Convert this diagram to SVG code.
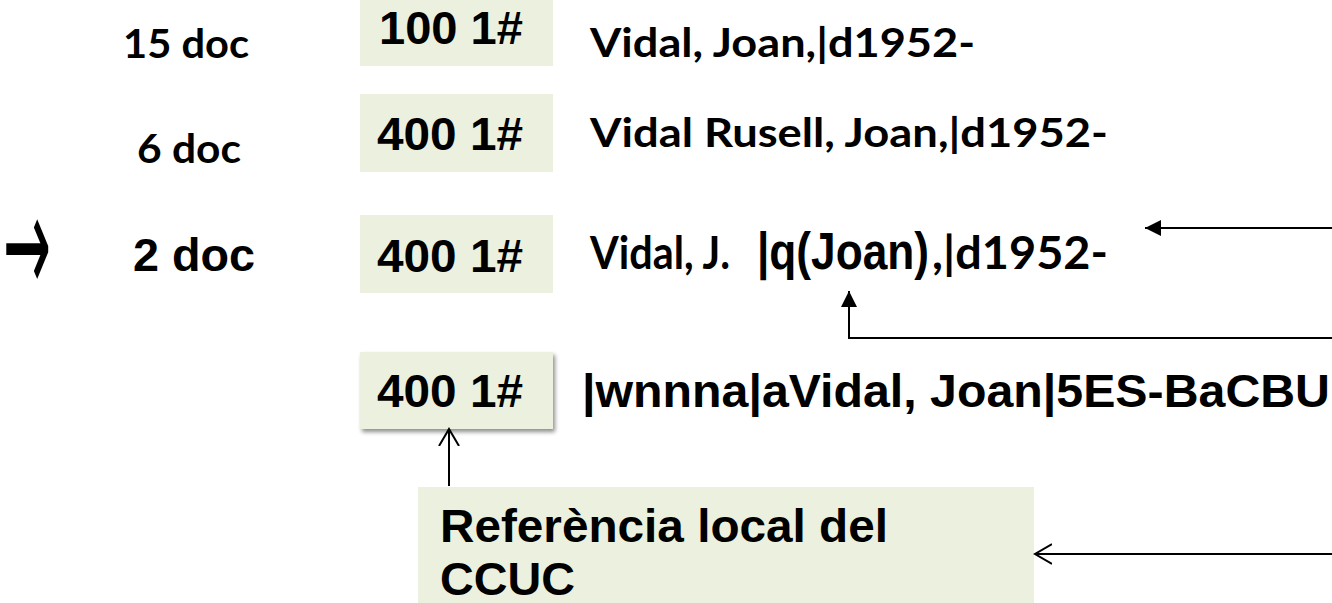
<svg xmlns="http://www.w3.org/2000/svg" width="1332" height="603" viewBox="0 0 1332 603">
<style>
.box{fill:#EBF1DE;}
.ar{font-family:"Liberation Sans",Arial,sans-serif;font-weight:bold;fill:#000;}
.cal{font-family:Lato,"Liberation Sans",sans-serif;font-weight:bold;fill:#000;}
.ln{fill:none;stroke:#000;stroke-width:2;}
</style>
<defs>
<marker id="fill" markerUnits="userSpaceOnUse" markerWidth="18" markerHeight="18" refX="16" refY="8" orient="auto">
<path d="M0,0 L16,8 L0,16 Z" fill="#000"/>
</marker>
<marker id="open" markerUnits="userSpaceOnUse" markerWidth="22" markerHeight="24" refX="17" refY="11" orient="auto">
<path d="M0,1 L17,11 L0,21" fill="none" stroke="#000" stroke-width="2"/>
</marker>
<filter id="sh" x="-10%" y="-10%" width="130%" height="140%">
<feGaussianBlur in="SourceAlpha" stdDeviation="2"/>
<feOffset dx="2" dy="3" result="b"/>
<feComponentTransfer><feFuncA type="linear" slope="0.45"/></feComponentTransfer>
<feMerge><feMergeNode/><feMergeNode in="SourceGraphic"/></feMerge>
</filter>
</defs>

<g id="counts">
<text class="cal" x="123" y="58" font-size="40" textLength="126" lengthAdjust="spacingAndGlyphs">15 doc</text>
<text class="cal" x="137" y="163" font-size="40" textLength="104" lengthAdjust="spacingAndGlyphs">6 doc</text>
<text x="3" y="293" font-size="140" font-family="DejaVu Sans" fill="#000" textLength="48" lengthAdjust="spacingAndGlyphs">→</text>
<text class="ar" x="133" y="271" font-size="46" textLength="122" lengthAdjust="spacingAndGlyphs">2 doc</text>
</g>

<g id="row1">
<rect class="box" x="360" y="-12" width="193" height="78"/>
<text class="ar" x="379" y="44" font-size="47" textLength="144" lengthAdjust="spacingAndGlyphs">100 1#</text>
<text class="cal" x="590" y="57" font-size="40" textLength="385" lengthAdjust="spacingAndGlyphs">Vidal, Joan,|d1952-</text>
</g>

<g id="row2">
<rect class="box" x="360" y="94" width="193" height="78"/>
<text class="ar" x="377" y="150" font-size="47" textLength="146" lengthAdjust="spacingAndGlyphs">400 1#</text>
<text class="cal" x="590" y="147" font-size="40" textLength="518" lengthAdjust="spacingAndGlyphs">Vidal Rusell, Joan,|d1952-</text>
</g>

<g id="row3">
<rect class="box" x="360" y="215" width="193" height="78"/>
<text class="ar" x="377" y="272" font-size="47" textLength="146" lengthAdjust="spacingAndGlyphs">400 1#</text>
<text y="269"><tspan class="cal" x="590" font-size="45" textLength="140" lengthAdjust="spacingAndGlyphs">Vidal, J.</tspan><tspan class="ar" x="757" font-size="52" textLength="172" lengthAdjust="spacingAndGlyphs">|q(Joan)</tspan><tspan class="cal" x="932" font-size="45" textLength="176" lengthAdjust="spacingAndGlyphs">,|d1952-</tspan></text>
</g>

<g id="row4">
<rect class="box" x="360" y="352" width="193" height="77" filter="url(#sh)"/>
<text class="ar" x="377" y="407" font-size="47" textLength="146" lengthAdjust="spacingAndGlyphs">400 1#</text>
<text class="ar" x="582" y="407" font-size="47" textLength="748" lengthAdjust="spacingAndGlyphs">|wnnna|aVidal, Joan|5ES-BaCBU</text>
</g>

<g id="label">
<rect class="box" x="418" y="487" width="616" height="120"/>
<text class="ar" x="440" y="542" font-size="46" textLength="448" lengthAdjust="spacingAndGlyphs">Referència local del</text>
<text class="ar" x="440" y="595" font-size="46" textLength="135" lengthAdjust="spacingAndGlyphs">CCUC</text>
</g>

<g id="connectors">
<path class="ln" d="M1332,228 H1145" marker-end="url(#fill)"/>
<path class="ln" d="M1332,338 H849 V291" marker-end="url(#fill)"/>
<path class="ln" d="M1332,554 H1035" marker-end="url(#open)"/>
<path class="ln" d="M449,486 V429" marker-end="url(#open)"/>
</g>
</svg>
